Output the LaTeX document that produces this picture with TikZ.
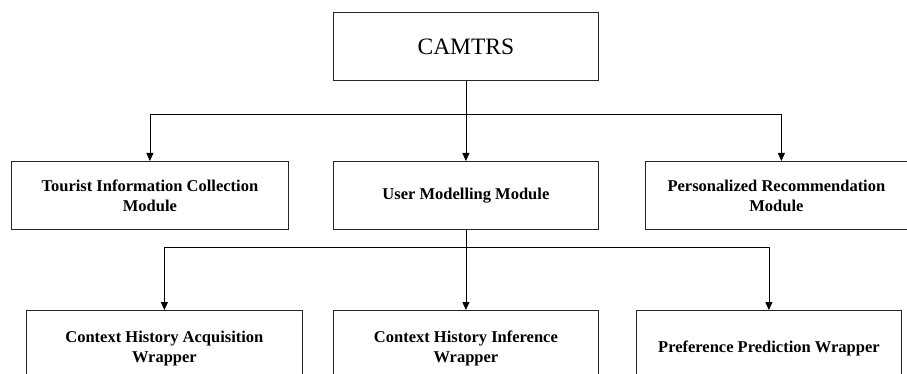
\documentclass[tikz,border=0pt]{standalone}
\usepackage{fontspec}
\setmainfont{Liberation Serif}
\usetikzlibrary{arrows.meta}
\begin{document}
\begin{tikzpicture}[x=1pt,y=-1pt,
  box/.style={draw=black!85,line width=0.8pt,anchor=north west,inner sep=0pt,align=center,
    font=\fontsize{16.5}{20}\selectfont\bfseries},
  arr/.style={-{Triangle[length=8pt,width=7pt]},line width=0.8pt},
  link/.style={line width=0.8pt}]
\useasboundingbox (0,0) rectangle (907,374);
\clip (0,0) rectangle (907,374);
\node[box,minimum width=265pt,minimum height=68pt,font=\fontsize{23.5}{27}\selectfont] (top) at (333,12) {CAMTRS};
\node[box,minimum width=277pt,minimum height=68pt] (tic) at (11,161) {Tourist Information Collection\\Module};
\node[box,minimum width=265pt,minimum height=68pt] (umm) at (333,161) {User Modelling Module};
\node[box,minimum width=262pt,minimum height=68pt] (prm) at (645,161) {Personalized Recommendation\\Module};
\node[box,minimum width=276pt,minimum height=76pt] (cha) at (26,310) {Context History Acquisition\\Wrapper};
\node[box,minimum width=265pt,minimum height=76pt] (chi) at (333,310) {Context History Inference\\Wrapper};
\node[box,minimum width=265pt,minimum height=76pt] (ppw) at (636,310) {Preference Prediction Wrapper};
\coordinate (j1) at (465,114);
\coordinate (j2) at (465,247);
\coordinate (pr) at ([xshift=5pt]prm.north);
\draw[link] (tic.north |- j1) -- (pr |- j1);
\draw[arr] (top.south) -- (umm.north);
\draw[arr] (tic.north |- j1) -- (tic.north);
\draw[arr] (pr |- j1) -- (pr);
\draw[link] (cha.north |- j2) -- (ppw.north |- j2);
\draw[arr] (umm.south) -- (chi.north);
\draw[arr] (cha.north |- j2) -- (cha.north);
\draw[arr] (ppw.north |- j2) -- (ppw.north);
\end{tikzpicture}
\end{document}
